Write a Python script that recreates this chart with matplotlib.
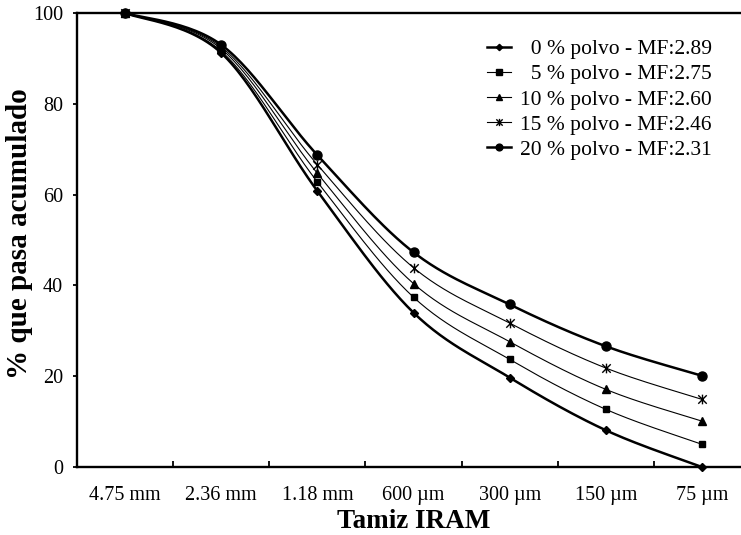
import numpy as np
import matplotlib
matplotlib.use("Agg")
import matplotlib.pyplot as plt
from matplotlib.path import Path

# ---- data ----
tamices = ["4.75 mm", "2.36 mm", "1.18 mm", "600 \u00b5m", "300 \u00b5m", "150 \u00b5m", "75 \u00b5m"]
series_labels = ["  0 % polvo - MF:2.89", "  5 % polvo - MF:2.75", "10 % polvo - MF:2.60",
                 "15 % polvo - MF:2.46", "20 % polvo - MF:2.31"]
polvo_0 = [100, 91.2, 60.8, 34.0, 19.7, 8.1, 0.0]
polvo_5 = [100, 91.6, 62.8, 37.4, 23.7, 12.7, 5.0]
polvo_10 = [100, 92.1, 64.7, 40.4, 27.6, 17.1, 10.1]
polvo_15 = [100, 92.5, 66.6, 43.9, 31.7, 21.8, 14.9]
polvo_20 = [100, 93.0, 68.7, 47.3, 35.8, 26.6, 20.1]
yticks = [0, 20, 40, 60, 80, 100]

plt.rcParams['font.family'] = ['Liberation Serif', 'DejaVu Serif']

W, H = 741, 535
fig = plt.figure(figsize=(W / 100, H / 100), dpi=100)
L, R, T, B = 77, 750, 13, 467
ax = fig.add_axes([L / W, 1 - B / H, (R - L) / W, (B - T) / H])


def excel_smooth(xs, ys, n=30):
    """Bezier smoothing like spreadsheet 'smoothed line'."""
    pts = np.column_stack([xs, ys]).astype(float)
    ext = np.vstack([pts[0], pts, pts[-1]])
    out = []
    t = np.linspace(0, 1, n)[:, None]
    for i in range(len(pts) - 1):
        p0, p3 = ext[i + 1], ext[i + 2]
        p1 = p0 + (ext[i + 2] - ext[i]) / 6.0
        p2 = p3 - (ext[i + 3] - ext[i + 1]) / 6.0
        seg = ((1 - t) ** 3) * p0 + 3 * ((1 - t) ** 2) * t * p1 + 3 * (1 - t) * t ** 2 * p2 + t ** 3 * p3
        out.append(seg if i == 0 else seg[1:])
    c = np.vstack(out)
    return c[:, 0], c[:, 1]


star = Path([(0, -1), (0, 1), (-0.87, -0.87), (0.87, 0.87), (-0.87, 0.87), (0.87, -0.87)],
            [Path.MOVETO, Path.LINETO, Path.MOVETO, Path.LINETO, Path.MOVETO, Path.LINETO])

all_series = [polvo_0, polvo_5, polvo_10, polvo_15, polvo_20]
markers = ['D', 's', '^', star, 'o']
msizes = [4.3, 5.0, 6.0, 7.0, 6.5]
lws = [1.8, 0.8, 0.8, 0.8, 1.8]
x = np.arange(len(tamices))

handles = []
for ys, mk, ms, lw, lab in zip(all_series, markers, msizes, lws, series_labels):
    sx, sy = excel_smooth(x, ys)
    ax.plot(sx, sy, color='black', lw=lw, clip_on=False, zorder=3, solid_capstyle='round')
    ax.plot(x, ys, linestyle='none', marker=mk, ms=ms, color='black', mew=1.0,
            clip_on=False, zorder=4)
    h, = ax.plot([], [], color='black', lw=lw, marker=mk, ms=ms * 0.75, mew=1.0, label=lab)
    handles.append(h)

ax.set_xlim(-0.5, 6.5)
ax.set_ylim(0, 100)
ax.set_yticks(yticks)
ax.set_xticks(np.arange(0.5, 6.5, 1.0))
ax.set_xticklabels([])
ax.set_xticks(x, minor=True)
ax.set_xticklabels(tamices, minor=True)
ax.tick_params(axis='x', which='major', direction='in', length=4.5, width=1.3, top=False)
ax.tick_params(axis='x', which='minor', length=0, pad=14, labelsize=14.5)
ax.tick_params(axis='y', direction='out', length=3, width=1.3, pad=7, labelsize=14.5, right=False)

for s in ['left', 'top', 'bottom']:
    ax.spines[s].set_linewidth(1.7)
ax.spines['right'].set_visible(False)

ax.set_xlabel("Tamiz IRAM", fontsize=19.5, fontweight='bold', va='center')
ax.xaxis.set_label_coords(0.5, -0.12)
ax.set_ylabel("% que pasa acumulado", fontsize=21, fontweight='bold', va='center')
ax.yaxis.set_label_coords(-0.085, 0.515)

leg = ax.legend(handles=handles, loc='upper left', bbox_to_anchor=(487 / W, 1 - 39 / H),
                bbox_transform=fig.transFigure, frameon=False, fontsize=15.5,
                handlelength=1.1, handletextpad=0.45, labelspacing=0.24, borderpad=0,
                borderaxespad=0)

fig.savefig("out.png", dpi=100)
